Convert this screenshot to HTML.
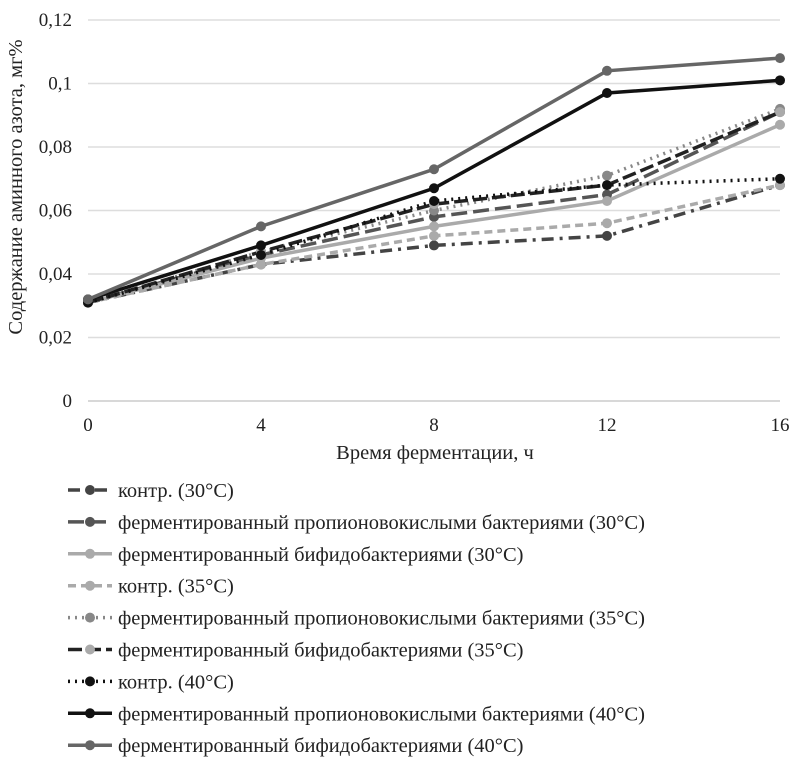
<!DOCTYPE html>
<html><head><meta charset="utf-8"><style>
body{margin:0;background:#fff;}
svg text{font-family:"Liberation Serif",serif;fill:#222;}
</style></head><body>
<svg id="c" width="800" height="770"></svg>
<script>
const categories=[0,4,8,12,16];
const yTicks=[0,0.02,0.04,0.06,0.08,0.1,0.12];
const yTickLabels=["0","0,02","0,04","0,06","0,08","0,1","0,12"];
const seriesNames=["контр. (30°C)","ферментированный пропионовокислыми бактериями (30°C)","ферментированный бифидобактериями (30°C)","контр. (35°C)","ферментированный пропионовокислыми бактериями (35°C)","ферментированный бифидобактериями (35°C)","контр. (40°C)","ферментированный пропионовокислыми бактериями (40°C)","ферментированный бифидобактериями (40°C)"];
const s1=[0.031,0.043,0.049,0.052,0.068];
const s2=[0.031,0.046,0.058,0.065,0.091];
const s3=[0.031,0.045,0.055,0.063,0.087];
const s4=[0.031,0.043,0.052,0.056,0.068];
const s5=[0.031,0.047,0.060,0.071,0.092];
const s6=[0.031,0.047,0.062,0.068,0.091];
const s7=[0.031,0.046,0.063,0.068,0.070];
const s8=[0.032,0.049,0.067,0.097,0.101];
const s9=[0.032,0.055,0.073,0.104,0.108];
const seriesValues=[s1,s2,s3,s4,s5,s6,s7,s8,s9];
const styles=[
 {c:"#444",m:"#444",d:"12 6 3 6"},
 {c:"#555",m:"#555",d:"16 6"},
 {c:"#aaa",m:"#aaa",d:""},
 {c:"#aaa",m:"#aaa",d:"8 5"},
 {c:"#888",m:"#888",d:"2 5"},
 {c:"#222",m:"#aaa",d:"14 5"},
 {c:"#111",m:"#111",d:"2 5"},
 {c:"#111",m:"#111",d:""},
 {c:"#666",m:"#666",d:""}];
const NS="http://www.w3.org/2000/svg";
const svg=document.getElementById('c');
const X0=88,X1=780,Y0=401,Y1=20;
const x=v=>X0+(v-0)/(16-0)*(X1-X0);
const y=v=>Y0-(v/0.12)*(Y0-Y1);
function mk(t,a,p){const e=document.createElementNS(NS,t);for(const k in a)e.setAttribute(k,a[k]);(p||svg).appendChild(e);return e;}
yTicks.forEach((t,i)=>{
 const l=mk('line',{x1:X0,x2:X1,y1:y(t),y2:y(t),stroke:i==0?'#ccc':'#ddd','stroke-width':1.5});
 
 
 const tx=mk('text',{x:72,y:y(t)+6,'text-anchor':'end','font-size':19});
 tx.textContent=yTickLabels[i];
 
 
});
categories.forEach(c=>{
 const tx=mk('text',{x:x(c),y:431,'text-anchor':'middle','font-size':19});
 tx.textContent=c;
 
 
});
const xt=mk('text',{x:435,y:459,'text-anchor':'middle','font-size':20.5});xt.textContent='Время ферментации, ч';


const yt=mk('text',{x:0,y:0,'text-anchor':'middle','font-size':20.5,transform:'translate(22,187) rotate(-90)'});yt.textContent='Содержание аминного азота, мг%';


seriesValues.forEach((vals,i)=>{
 const st=styles[i];
 const g=mk('g',{});
 
 
 const pl=mk('polyline',{points:vals.map((v,j)=>x(categories[j])+','+y(v)).join(' '),fill:'none',stroke:st.c,'stroke-width':3.5,'stroke-dasharray':st.d},g);
 
 
 vals.forEach((v,j)=>{
  const p=mk('circle',{cx:x(categories[j]),cy:y(v),r:5,fill:st.m},g);
  
  
 });
 const ly=490+i*31.9;
 const lg=mk('g',{});
 
 
 mk('line',{x1:68,x2:112,y1:ly,y2:ly,stroke:st.c,'stroke-width':3.5,'stroke-dasharray':st.d},lg);
 mk('circle',{cx:90,cy:ly,r:5,fill:st.m},lg);
 const lt=mk('text',{x:118,y:ly+7,'font-size':20.5},lg);
 lt.textContent=seriesNames[i];
});
</script>
</body></html>
